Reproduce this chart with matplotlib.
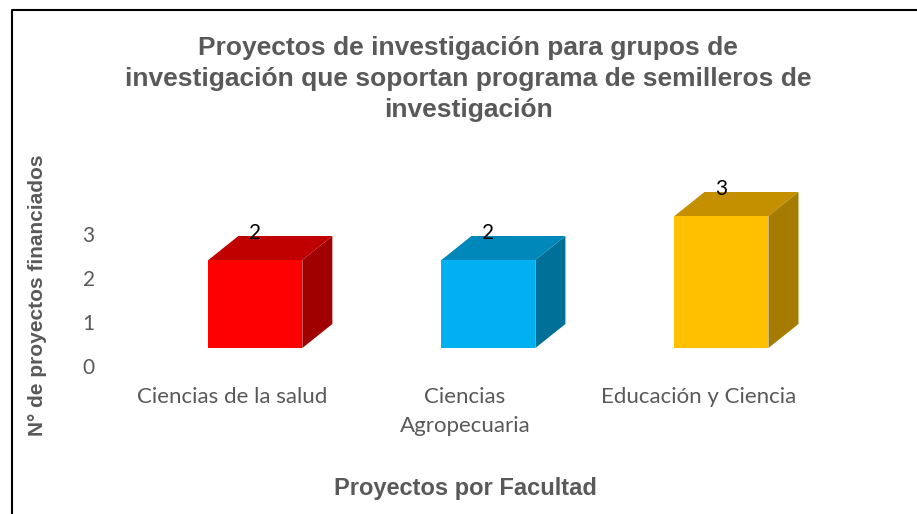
import matplotlib
matplotlib.use("Agg")
import matplotlib.pyplot as plt
from matplotlib.patches import Polygon
from matplotlib.lines import Line2D
from matplotlib.transforms import ScaledTranslation
import numpy as np

categories = ["Ciencias de la salud", "Ciencias\nAgropecuaria", "Educación y Ciencia"]
values = [2, 2, 3]
front_colors = ["#FF0000", "#00B0F0", "#FFC000"]
top_colors = ["#C00000", "#0088BB", "#C49000"]
side_colors = ["#A00000", "#007098", "#A67C00"]
yticks = [0, 1, 2, 3]

title = "Proyectos de investigación para grupos de\ninvestigación que soportan programa de semilleros de\ninvestigación"
xlabel = "Proyectos por Facultad"
ylabel = "N° de proyectos financiados"

W, H = 917, 514
fig = plt.figure(figsize=(W / 100, H / 100), dpi=100)

# axes geometry in pixels
ax_l, ax_r = 115.5, 838.0
ax_bottom, ax_top = 348.0, 172.0
ax = fig.add_axes([ax_l / W, 1 - ax_bottom / H, (ax_r - ax_l) / W, (ax_bottom - ax_top) / H])
xlim = (-0.5, 2.6)
ylim = (0, 4)
ax.set_xlim(*xlim)
ax.set_ylim(*ylim)

px_per_x = (ax_r - ax_l) / (xlim[1] - xlim[0])
px_per_y = (ax_bottom - ax_top) / (ylim[1] - ylim[0])
depth_dx = 30 / px_per_x
depth_dy = 24 / px_per_y
bar_w = 94 / px_per_x
shift = 0.1

x = np.arange(len(categories))
bars = ax.bar(x + shift, values, width=bar_w, color=front_colors, zorder=3)
for i, (b, v) in enumerate(zip(bars, values)):
    x0 = b.get_x()
    x1 = x0 + b.get_width()
    top = Polygon([(x0, v), (x1, v), (x1 + depth_dx, v + depth_dy), (x0 + depth_dx, v + depth_dy)],
                  closed=True, facecolor=top_colors[i], edgecolor="none", zorder=2, clip_on=False)
    side = Polygon([(x1, 0), (x1 + depth_dx, depth_dy), (x1 + depth_dx, v + depth_dy), (x1, v)],
                   closed=True, facecolor=side_colors[i], edgecolor="none", zorder=2, clip_on=False)
    ax.add_patch(top)
    ax.add_patch(side)
    ax.annotate(str(v), xy=(x0 + b.get_width() / 2, v + depth_dy), xytext=(0, 2),
                textcoords="offset points", ha="center", va="center",
                fontsize=15, family="Lato", color="black", zorder=5, annotation_clip=False)

for s in ax.spines.values():
    s.set_visible(False)
ax.set_xticks(x)
ax.set_xticklabels(categories, family="Lato", fontsize=16, color="#595959", linespacing=1.55)
ax.set_yticks(yticks)
ax.set_yticklabels([str(t) for t in yticks], family="Lato", fontsize=15, color="#595959")
ax.tick_params(axis="both", length=0)
ax.tick_params(axis="x", pad=28)
ax.tick_params(axis="y", pad=15)
off = ScaledTranslation(0, -18 / 100, fig.dpi_scale_trans)
for lab in ax.get_yticklabels():
    lab.set_transform(lab.get_transform() + off)
ax.patch.set_visible(False)

fig.text(468 / W, 1 - 79 / H, title, ha="center", va="center", fontsize=19,
         fontweight="bold", family="Liberation Sans", color="#595959", linespacing=1.35)
fig.text(465 / W, 1 - 489 / H, xlabel, ha="center", va="center", fontsize=17,
         fontweight="bold", family="Liberation Sans", color="#595959")
fig.text(38 / W, 1 - 295 / H, ylabel, ha="center", va="center", rotation=90, fontsize=15,
         fontweight="bold", family="Liberation Sans", color="#595959")

fig.add_artist(Line2D([12 / W, 12 / W, 1.0], [0.0, 1 - 10 / H, 1 - 10 / H],
                      transform=fig.transFigure, color="black", linewidth=1.5))

fig.savefig("out.png", dpi=100)
